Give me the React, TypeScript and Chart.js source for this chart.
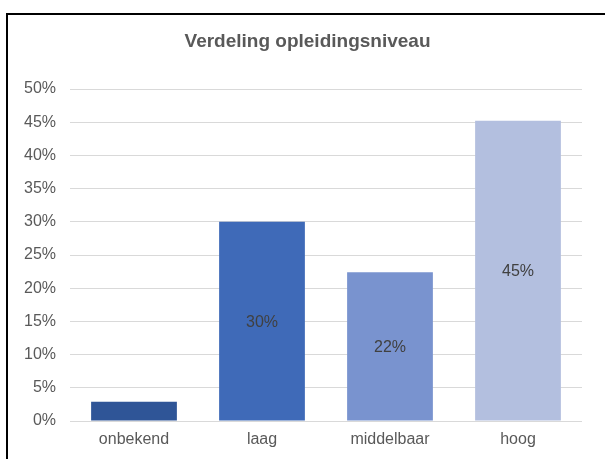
import React, { useEffect, useRef } from "react";
import { Chart, registerables } from "chart.js";

Chart.register(...registerables);

const categories = ["onbekend", "laag", "middelbaar", "hoog"];
const values = [2.9, 30.0, 22.4, 45.2];
const barColors = ["#2F5597", "#3F6AB8", "#7993CF", "#B3BFDF"];
const showLabel = [false, true, true, true];
const yTicksMax = 50;
const yStep = 5;
const chartTitle = "Verdeling opleidingsniveau";

const FONT = "'Liberation Sans', Arial, sans-serif";

const decorPlugin = {
  id: "decor",
  beforeDraw(chart: any) {
    const ctx = chart.ctx;
    ctx.save();
    ctx.fillStyle = "#ffffff";
    ctx.fillRect(0, 0, chart.width, chart.height);
    ctx.strokeStyle = "#000000";
    ctx.lineWidth = 2;
    ctx.beginPath();
    ctx.moveTo(7, chart.height);
    ctx.lineTo(7, 14);
    ctx.lineTo(chart.width, 14);
    ctx.stroke();
    ctx.fillStyle = "#595959";
    ctx.font = `bold 19px ${FONT}`;
    ctx.textAlign = "center";
    ctx.textBaseline = "middle";
    ctx.fillText(chartTitle, 307.5, 42);
    ctx.restore();
  },
  afterDatasetsDraw(chart: any) {
    const ctx = chart.ctx;
    const meta = chart.getDatasetMeta(0);
    ctx.save();
    ctx.fillStyle = "#404040";
    ctx.font = `16px ${FONT}`;
    ctx.textAlign = "center";
    ctx.textBaseline = "middle";
    meta.data.forEach((bar: any, i: number) => {
      if (!showLabel[i]) return;
      const yMid = (bar.y + bar.base) / 2;
      ctx.fillText(Math.round(values[i]) + "%", bar.x, yMid + 1);
    });
    ctx.restore();
  },
};

export default function App() {
  const ref = useRef<HTMLCanvasElement>(null);
  useEffect(() => {
    if (!ref.current) return;
    const chart = new Chart(ref.current, {
      type: "bar",
      data: {
        labels: categories,
        datasets: [
          {
            data: values,
            backgroundColor: barColors,
            borderWidth: 0,
            categoryPercentage: 1,
            barPercentage: 0.67,
          },
        ],
      },
      options: {
        animation: false,
        responsive: false,
        devicePixelRatio: 1,
        layout: { padding: { left: 6, top: 89, right: 23, bottom: 0 } },
        plugins: {
          legend: { display: false },
          title: { display: false },
          tooltip: { enabled: false },
        },
        scales: {
          x: {
            grid: { display: false, drawTicks: false },
            border: { display: false },
            ticks: {
              color: "#595959",
              font: { family: FONT, size: 16 },
              padding: 9,
              maxRotation: 0,
            },
            afterFit(scale: any) {
              scale.height = 38;
            },
          },
          y: {
            min: 0,
            max: yTicksMax,
            grid: { color: "#D9D9D9", lineWidth: 1, drawTicks: false },
            border: { display: false },
            ticks: {
              stepSize: yStep,
              color: "#595959",
              font: { family: FONT, size: 16 },
              padding: 14,
              callback: (v: any) => v + "%",
            },
            afterFit(scale: any) {
              scale.width = 64;
            },
          },
        },
      },
      plugins: [decorPlugin],
    });
    return () => chart.destroy();
  }, []);
  return (
    <div style={{ position: "fixed", left: 0, top: 0, width: 605, height: 459 }}>
      <canvas ref={ref} width={605} height={459} style={{ width: 605, height: 459, display: "block" }} />
    </div>
  );
}
